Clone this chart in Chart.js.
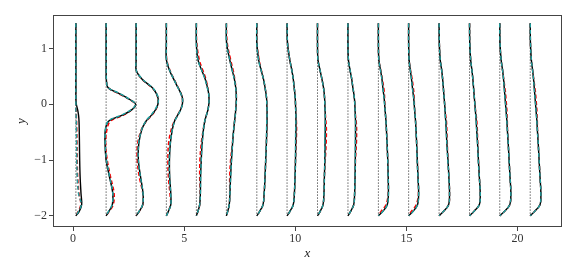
<!DOCTYPE html>
<html lang="en">
<head>
<meta charset="UTF-8" />
<title>Perfiles</title>
<script src="https://cdn.jsdelivr.net/npm/chart.js"></script>
<style>
  html, body { margin: 0; padding: 0; background: #fff; }
  #wrap { width: 578px; height: 275px; }
</style>
</head>
<body>
<div id="wrap"><canvas id="perfiles"></canvas></div>
<script>
// station positions (x) and sampled heights (y)
const stations = [0.13, 1.49, 2.84, 4.2, 5.55, 6.9, 8.27, 9.63, 11.0, 12.37, 13.74, 15.1, 16.47, 17.84, 19.2, 20.57];
const yLevels = [1.45, 1.1, 0.8, 0.6, 0.45, 0.3, 0.2, 0.1, 0.0, -0.1, -0.2, -0.3, -0.45, -0.7, -1.0, -1.3, -1.6, -1.8, -1.92, -2.0];
const xTicks = [0, 5, 10, 15, 20];
const yTicks = [-2, -1, 0, 1];

// profile offsets from each station line (black solid)
const profBlack = [
  [0,0,0,0,0,0,0,0,0.02,0.08,0.12,0.14,0.15,0.16,0.17,0.19,0.23,0.26,0.15,0],
  [0,0,0,0,0.01,0.08,0.55,1.0,1.33,1.15,0.7,0.12,-0.03,-0.05,0.0,0.15,0.3,0.28,0.12,0],
  [0,0,0,0.01,0.27,0.72,0.9,0.99,0.98,0.87,0.68,0.45,0.26,0.12,0.1,0.2,0.31,0.3,0.14,0],
  [0,0,0,0.15,0.33,0.52,0.65,0.73,0.72,0.64,0.5,0.37,0.27,0.18,0.14,0.15,0.2,0.2,0.09,0],
  [0,0,0.07,0.25,0.4,0.5,0.55,0.57,0.56,0.52,0.45,0.38,0.32,0.26,0.22,0.19,0.18,0.15,0.07,0],
  [0,0.01,0.15,0.27,0.36,0.42,0.44,0.45,0.44,0.42,0.4,0.37,0.33,0.28,0.23,0.19,0.16,0.13,0.06,0],
  [0,0,0.08,0.2,0.3,0.37,0.41,0.44,0.45,0.46,0.46,0.46,0.45,0.43,0.4,0.37,0.33,0.28,0.13,0],
  [0,0.02,0.12,0.22,0.28,0.32,0.35,0.37,0.38,0.39,0.4,0.4,0.4,0.39,0.38,0.36,0.33,0.28,0.13,0],
  [0,0,0.02,0.12,0.2,0.27,0.3,0.32,0.33,0.34,0.35,0.35,0.35,0.34,0.33,0.31,0.29,0.25,0.12,0],
  [0,0,0.02,0.1,0.17,0.22,0.26,0.29,0.31,0.32,0.33,0.34,0.34,0.34,0.33,0.32,0.3,0.26,0.12,0],
  [0,0,0.02,0.1,0.16,0.2,0.23,0.26,0.28,0.3,0.32,0.34,0.36,0.39,0.42,0.44,0.45,0.4,0.2,0],
  [0,0,0.02,0.08,0.13,0.17,0.2,0.23,0.25,0.27,0.29,0.31,0.33,0.36,0.39,0.42,0.45,0.4,0.2,0],
  [0,0.01,0.05,0.12,0.16,0.19,0.21,0.23,0.25,0.27,0.28,0.3,0.32,0.35,0.4,0.44,0.47,0.43,0.2,0],
  [0,0.01,0.05,0.11,0.15,0.18,0.2,0.22,0.24,0.26,0.28,0.3,0.32,0.36,0.4,0.44,0.48,0.44,0.2,0],
  [0,0.01,0.06,0.13,0.17,0.2,0.22,0.24,0.26,0.28,0.3,0.32,0.34,0.38,0.42,0.46,0.5,0.45,0.21,0],
  [0,0.01,0.05,0.11,0.15,0.18,0.2,0.22,0.24,0.26,0.28,0.3,0.32,0.36,0.4,0.44,0.48,0.44,0.2,0]
];

// red dashed model
const profRed = [
  [0,0,0,0,0,0,0,0,0,0.01,0.02,0.03,0.04,0.05,0.06,0.08,0.14,0.22,0.1,0],
  [0,0,0,0,0.01,0.08,0.52,0.98,1.32,1.15,0.75,0.2,0.04,-0.02,0.05,0.2,0.36,0.32,0.14,0],
  [0,0,0,0.01,0.26,0.7,0.9,0.98,0.98,0.88,0.7,0.47,0.24,0.07,0.05,0.14,0.3,0.3,0.14,0],
  [0,0,0.02,0.17,0.35,0.53,0.65,0.72,0.71,0.63,0.5,0.36,0.22,0.1,0.07,0.09,0.16,0.19,0.08,0],
  [0,0.02,0.13,0.3,0.43,0.51,0.55,0.57,0.56,0.52,0.45,0.38,0.31,0.22,0.16,0.15,0.17,0.15,0.07,0],
  [0,0.04,0.19,0.31,0.38,0.43,0.45,0.45,0.44,0.42,0.4,0.37,0.33,0.27,0.19,0.15,0.15,0.13,0.06,0],
  [0,0.01,0.1,0.21,0.3,0.37,0.41,0.44,0.45,0.46,0.46,0.46,0.45,0.43,0.4,0.37,0.33,0.28,0.13,0],
  [0,0.02,0.12,0.22,0.28,0.32,0.35,0.37,0.38,0.39,0.41,0.42,0.43,0.41,0.38,0.36,0.33,0.28,0.13,0],
  [0,0,0.02,0.12,0.2,0.27,0.3,0.32,0.33,0.34,0.36,0.38,0.4,0.39,0.35,0.31,0.29,0.25,0.12,0],
  [0,0,0.02,0.1,0.17,0.22,0.26,0.29,0.31,0.32,0.34,0.37,0.39,0.38,0.34,0.32,0.3,0.26,0.12,0],
  [0,0,0.02,0.11,0.18,0.24,0.27,0.28,0.29,0.3,0.32,0.34,0.36,0.39,0.42,0.44,0.44,0.34,0.12,0],
  [0,0,0.02,0.09,0.16,0.21,0.24,0.25,0.26,0.27,0.29,0.31,0.33,0.36,0.39,0.42,0.44,0.34,0.12,0],
  [0,0.01,0.05,0.12,0.16,0.19,0.21,0.23,0.25,0.27,0.3,0.33,0.35,0.37,0.4,0.44,0.47,0.43,0.2,0],
  [0,0.01,0.05,0.11,0.15,0.18,0.2,0.22,0.24,0.27,0.3,0.33,0.35,0.37,0.4,0.44,0.48,0.44,0.2,0],
  [0,0.01,0.06,0.13,0.18,0.23,0.26,0.28,0.3,0.32,0.33,0.34,0.35,0.38,0.42,0.46,0.5,0.45,0.21,0],
  [0,0.01,0.05,0.11,0.16,0.21,0.24,0.26,0.28,0.3,0.31,0.32,0.33,0.36,0.4,0.44,0.48,0.44,0.2,0]
];

// teal dashed model
const profTeal = [
  [0,0,0,0,0,0,0,0,0,0,0.01,0.02,0.02,0.03,0.04,0.06,0.12,0.24,0.12,0],
  [0,0,0,0,0.01,0.09,0.57,1.0,1.32,1.12,0.66,0.1,-0.03,-0.04,0.02,0.16,0.3,0.27,0.11,0],
  [0,0,0,0.01,0.28,0.73,0.91,1.0,0.97,0.85,0.66,0.44,0.25,0.11,0.1,0.19,0.31,0.29,0.13,0],
  [0,0,0.01,0.16,0.34,0.52,0.64,0.72,0.72,0.64,0.51,0.38,0.27,0.17,0.13,0.14,0.19,0.2,0.09,0],
  [0,0,0.07,0.25,0.39,0.49,0.55,0.57,0.56,0.52,0.45,0.38,0.32,0.26,0.22,0.19,0.18,0.15,0.07,0],
  [0,0.01,0.15,0.27,0.36,0.42,0.44,0.45,0.44,0.42,0.4,0.37,0.33,0.28,0.23,0.19,0.16,0.13,0.06,0],
  [0,0,0.08,0.2,0.3,0.37,0.41,0.44,0.45,0.46,0.46,0.45,0.44,0.43,0.4,0.37,0.33,0.28,0.13,0],
  [0,0.02,0.12,0.22,0.28,0.32,0.35,0.37,0.38,0.39,0.4,0.4,0.39,0.38,0.38,0.36,0.33,0.28,0.13,0],
  [0,0,0.02,0.12,0.2,0.27,0.3,0.32,0.33,0.34,0.35,0.35,0.34,0.33,0.33,0.31,0.29,0.25,0.12,0],
  [0,0,0.02,0.1,0.17,0.22,0.26,0.29,0.31,0.32,0.33,0.34,0.34,0.33,0.33,0.32,0.3,0.26,0.12,0],
  [0,0,0.02,0.1,0.16,0.2,0.23,0.26,0.28,0.3,0.32,0.34,0.36,0.39,0.42,0.44,0.45,0.4,0.2,0],
  [0,0,0.02,0.08,0.13,0.17,0.2,0.23,0.25,0.27,0.29,0.31,0.33,0.36,0.38,0.42,0.45,0.4,0.2,0],
  [0,0.01,0.05,0.12,0.16,0.19,0.21,0.23,0.25,0.27,0.28,0.3,0.32,0.35,0.39,0.44,0.47,0.43,0.2,0],
  [0,0.01,0.05,0.11,0.15,0.18,0.2,0.22,0.24,0.26,0.28,0.3,0.32,0.36,0.39,0.44,0.48,0.44,0.2,0],
  [0,0.01,0.06,0.13,0.17,0.2,0.22,0.24,0.26,0.28,0.3,0.32,0.34,0.38,0.42,0.46,0.5,0.45,0.21,0],
  [0,0.01,0.05,0.11,0.15,0.18,0.2,0.22,0.24,0.26,0.28,0.3,0.32,0.36,0.4,0.44,0.48,0.44,0.2,0]
];

const SERIF = "'Liberation Serif', 'DejaVu Serif', serif";
const TEAL = '#1f9e9e';

function puntos(x0, offs) {
  return yLevels.map((y, i) => ({ x: x0 + offs[i], y: y }));
}

// 'order': lower values are painted last (on top)
const datasets = [];
stations.forEach((x0, k) => {
  datasets.push({
    data: [{ x: x0, y: yLevels[0] }, { x: x0, y: yLevels[yLevels.length - 1] }],
    borderColor: '#222', borderWidth: 0.7, borderDash: [1.5, 1.5], tension: 0, order: 4
  });
  datasets.push({ data: puntos(x0, profRed[k]), borderColor: '#ff0000', borderWidth: 1.5, borderDash: [4, 2.5], order: 3 });
  datasets.push({ data: puntos(x0, profBlack[k]), borderColor: '#000', borderWidth: 1.4, order: 2 });
  datasets.push({ data: puntos(x0, profTeal[k]), borderColor: TEAL, borderWidth: 1.5, borderDash: [4, 2.5], order: 1 });
});

// full box around the plot area
const marco = {
  id: 'marco',
  afterDraw(chart) {
    const a = chart.chartArea, ctx = chart.ctx;
    ctx.save();
    ctx.strokeStyle = '#444';
    ctx.lineWidth = 1;
    ctx.strokeRect(Math.round(a.left) + 0.5, Math.round(a.top) + 0.5,
      Math.round(a.right - a.left) - 1, Math.round(a.bottom - a.top) - 1);
    ctx.restore();
  }
};

const menos = v => (v < 0 ? '\u2212' + Math.abs(v) : String(v));

new Chart(document.getElementById('perfiles'), {
  type: 'scatter',
  data: { datasets: datasets },
  options: {
    responsive: true,
    maintainAspectRatio: false,
    animation: false,
    layout: { padding: { left: 8, right: 16, top: 15, bottom: 14 } },
    elements: {
      point: { radius: 0, hoverRadius: 0 },
      line: { fill: false, tension: 0.35, borderCapStyle: 'butt' }
    },
    datasets: { scatter: { showLine: true } },
    plugins: { legend: { display: false }, tooltip: { enabled: false } },
    scales: {
      x: {
        type: 'linear', min: -0.9, max: 22,
        afterBuildTicks: s => { s.ticks = xTicks.map(v => ({ value: v })); },
        afterFit: s => { s.height = 34; },
        grid: { display: true, drawOnChartArea: false, drawTicks: true, tickLength: 4, color: '#444' },
        border: { display: false },
        ticks: { color: '#333', padding: 1, font: { family: SERIF, size: 12 }, callback: menos, maxRotation: 0 },
        title: { display: true, text: 'x', color: '#222', padding: 0, font: { family: SERIF, size: 13, style: 'italic' } }
      },
      y: {
        type: 'linear', min: -2.2, max: 1.6,
        afterBuildTicks: s => { s.ticks = yTicks.map(v => ({ value: v })); },
        afterFit: s => { s.width = 45; },
        grid: { display: true, drawOnChartArea: false, drawTicks: true, tickLength: 4, color: '#444' },
        border: { display: false },
        ticks: { color: '#333', padding: 2, font: { family: SERIF, size: 12 }, callback: menos },
        title: { display: true, text: 'y', color: '#222', padding: { top: 6, bottom: 0 }, font: { family: SERIF, size: 13, style: 'italic' } }
      }
    }
  },
  plugins: [marco]
});
</script>
</body>
</html>
